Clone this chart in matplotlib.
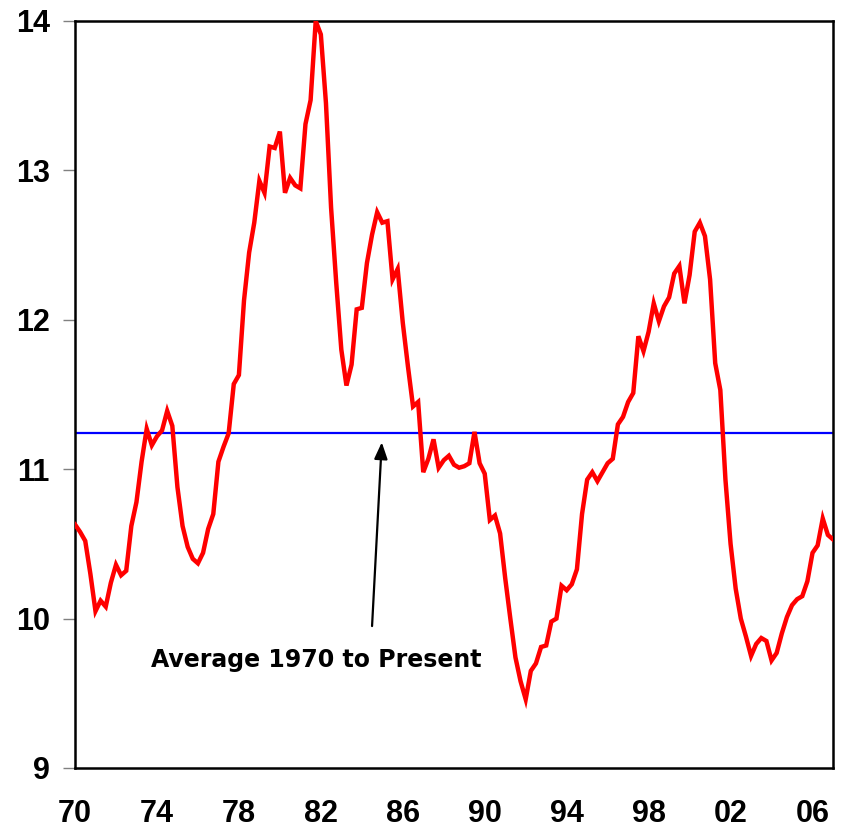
import matplotlib
matplotlib.use("Agg")
import matplotlib.pyplot as plt
import numpy as np

# Quarterly values, 1970Q1 onwards
values = [
    10.63, 10.58, 10.52, 10.30, 10.05, 10.12, 10.08, 10.24, 10.36, 10.29,
    10.32, 10.62, 10.78, 11.05, 11.27, 11.16, 11.22, 11.26, 11.39, 11.29,
    10.88, 10.62, 10.48, 10.40, 10.37, 10.44, 10.60, 10.70, 11.05, 11.15,
    11.24, 11.57, 11.63, 12.13, 12.45, 12.65, 12.93, 12.85, 13.16, 13.15,
    13.26, 12.85, 12.95, 12.90, 12.88, 13.31, 13.47, 14.00, 13.91, 13.45,
    12.75, 12.25, 11.80, 11.56, 11.70, 12.07, 12.08, 12.38, 12.57, 12.72,
    12.65, 12.66, 12.27, 12.34, 11.98, 11.69, 11.42, 11.45, 10.98, 11.07,
    11.20, 11.01, 11.06, 11.09, 11.03, 11.01, 11.02, 11.04, 11.25, 11.04,
    10.97, 10.66, 10.69, 10.57, 10.27, 10.00, 9.74, 9.58, 9.46, 9.65,
    9.70, 9.81, 9.82, 9.98, 10.00, 10.22, 10.19, 10.23, 10.33, 10.70,
    10.93, 10.98, 10.92, 10.98, 11.04, 11.07, 11.30, 11.35, 11.45, 11.51,
    11.89, 11.79, 11.92, 12.11, 11.99, 12.09, 12.15, 12.31, 12.36, 12.11,
    12.30, 12.59, 12.65, 12.56, 12.27, 11.71, 11.53, 10.93, 10.50, 10.20,
    10.00, 9.88, 9.75, 9.83, 9.87, 9.85, 9.72, 9.77, 9.90, 10.01,
    10.09, 10.13, 10.15, 10.25, 10.44, 10.49, 10.67, 10.56, 10.53,
]
average = 11.24
tick_labels = ["70", "74", "78", "82", "86", "90", "94", "98", "02", "06"]
y_ticks = [9, 10, 11, 12, 13, 14]
annotation = "Average 1970 to Present"

plt.rcParams['font.family'] = ['Liberation Sans', 'DejaVu Sans']

fig = plt.figure(figsize=(8.45, 8.30), dpi=100)
ax = fig.add_axes([75/845, 1-768/830, (833-75)/845, (768-21)/830])

x = np.arange(len(values))
ax.plot(x, values, color='#ff0000', lw=3.2, solid_joinstyle='miter', zorder=3)
ax.axhline(average, color='#0000ff', lw=1.6, zorder=2)

ax.set_xlim(0, len(values) - 1)
ax.set_ylim(9, 14)
ax.set_yticks(y_ticks)
ax.set_yticklabels([str(v) for v in y_ticks], fontsize=22, fontweight='bold')
ax.set_xticks(np.arange(len(tick_labels)) * 16)
ax.set_xticklabels(tick_labels, fontsize=22, fontweight='bold')
ax.tick_params(axis='y', direction='out', length=9, width=1.0, color='#808080', pad=9)
ax.tick_params(axis='x', length=0, pad=22)
for s in ax.spines.values():
    s.set_color('black')
    s.set_linewidth(1.8)

ax.annotate('', xy=(59.9, 11.18), xytext=(58.0, 9.95),
            arrowprops=dict(arrowstyle='-|>,head_length=1.0,head_width=0.4',
                            color='black', lw=1.6, shrinkA=0, shrinkB=0))
ax.text(47.1, 9.72, annotation, ha='center', va='center',
        fontsize=17, fontweight='bold', family=['DejaVu Sans'])

fig.savefig('out.png', dpi=100)
